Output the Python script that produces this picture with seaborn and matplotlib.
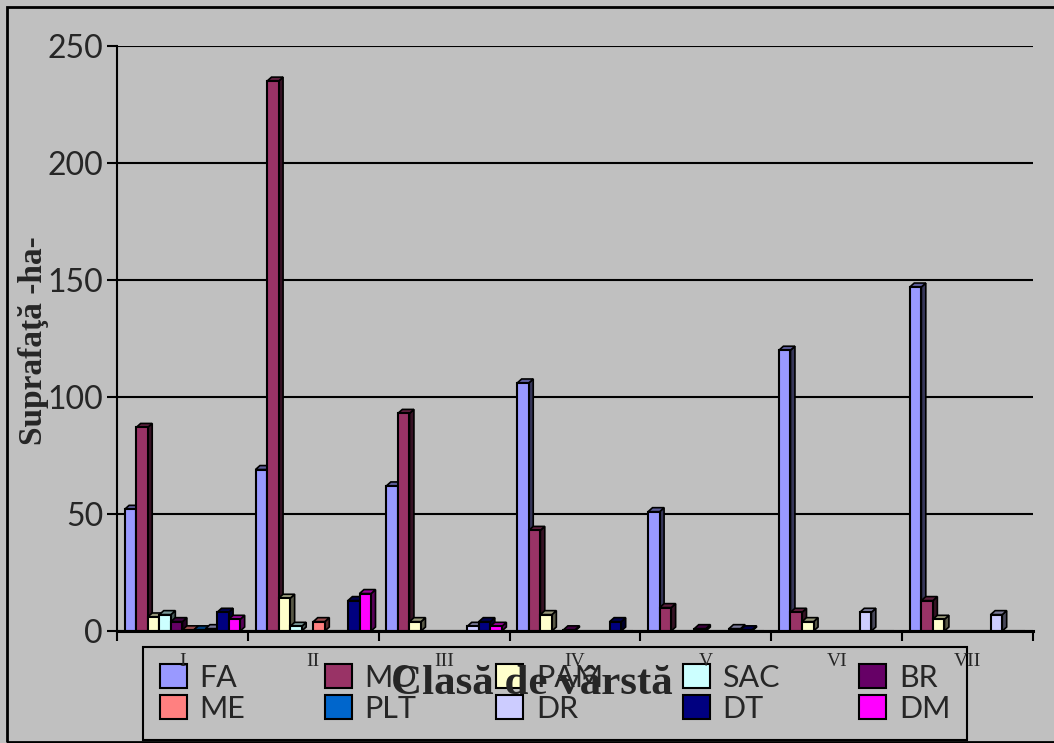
import numpy as np
import pandas as pd
import seaborn as sns
import matplotlib.pyplot as plt
from matplotlib.patches import Polygon, Rectangle
from matplotlib.colors import to_rgb

# Suprafata (ha) pe clase de varsta si specii
clase = ['I', 'II', 'III', 'IV', 'V', 'VI', 'VII']
specii = ['FA', 'MO', 'PAM', 'SAC', 'BR', 'ME', 'PLT', 'DR', 'DT', 'DM']

FA = [52, 69, 62, 106, 51, 120, 147]
MO = [87, 235, 93, 43, 10, 8, 13]
PAM = [6, 14, 4, 7, 0, 4, 5]
SAC = [7, 2, 0, 0, 0, 0, 0]
BR = [4, 0, 0, 0.5, 1, 0, 0]
ME = [0.5, 4, 0, 0, 0, 0, 0]
PLT = [0.5, 0, 0, 0, 0, 0, 0]
DR = [1, 0, 2, 0, 1, 8, 7]
DT = [8, 13, 4, 4, 0.5, 0, 0]
DM = [5, 16, 2, 0, 0, 0, 0]

culori = ['#9999FF', '#993366', '#FFFFCC', '#CCFFFF', '#660066',
          '#FF8080', '#0066CC', '#CCCCFF', '#000080', '#FF00FF']

valori = dict(zip(specii, [FA, MO, PAM, SAC, BR, ME, PLT, DR, DT, DM]))
df = pd.DataFrame([(c, s, valori[s][i]) for s in specii for i, c in enumerate(clase)],
                  columns=['clasa', 'specie', 'suprafata'])

sns.set_theme(style='white')
plt.rcParams['font.family'] = ['Lato', 'DejaVu Sans']
gri = '#C0C0C0'

fig, ax = plt.subplots(figsize=(10.54, 7.43), dpi=100)
fig.patch.set_facecolor(gri)
ax.set_facecolor(gri)
fig.subplots_adjust(left=117 / 1054, right=1033 / 1054, top=1 - 46 / 743, bottom=1 - 631 / 743)

sns.barplot(data=df, x='clasa', y='suprafata', hue='specie', order=clase, hue_order=specii,
            palette=culori, width=0.883, saturation=1, edgecolor='black', linewidth=1.5,
            errorbar=None, ax=ax)

# fake 3D: side and top faces for each bar
dx, dy = 0.034, 1.7
for bar in list(ax.patches):
    h = bar.get_height()
    if h <= 0:
        continue
    x, w = bar.get_x(), bar.get_width()
    c = np.array(to_rgb(bar.get_facecolor()))
    side = Polygon([(x + w, 0), (x + w + dx, dy), (x + w + dx, h + dy), (x + w, h)],
                   closed=True, facecolor=c * 0.35, edgecolor='black', lw=1.2, zorder=0.9)
    top = Polygon([(x, h), (x + dx, h + dy), (x + w + dx, h + dy), (x + w, h)],
                  closed=True, facecolor=c * 0.6, edgecolor='black', lw=1.2, zorder=0.9)
    ax.add_patch(side)
    ax.add_patch(top)

ax.set_xlim(-0.5, 6.5)
ax.set_ylim(0, 250)
ax.set_yticks(range(0, 251, 50))
ax.set_axisbelow(True)
ax.yaxis.grid(True, color='black', lw=1.5)
ax.xaxis.grid(False)

for s in ['top', 'right']:
    ax.spines[s].set_visible(False)
ax.spines['left'].set_color('black')
ax.spines['left'].set_linewidth(1.5)
ax.spines['bottom'].set_color('black')
ax.spines['bottom'].set_linewidth(2.2)

ax.tick_params(axis='y', labelsize=23, length=7, width=1.5, color='black', pad=3, left=True)
ax.tick_params(axis='x', which='major', length=0, labelsize=14, pad=16)
ax.set_xticks(np.arange(-0.5, 7, 1), minor=True)
ax.tick_params(axis='x', which='minor', length=7.5, width=1.5, color='black', bottom=True)
for lbl in ax.get_xticklabels():
    lbl.set_fontfamily('Liberation Serif')

ax.set_xlabel('Clasă de vârstă', fontsize=31, fontweight='bold', fontfamily='Liberation Serif')
ax.xaxis.set_label_coords(0.453, -0.09)
ax.xaxis.label.set_va('center')
ax.set_ylabel('Suprafaţă -ha-', fontsize=24, fontweight='bold', fontfamily='Liberation Serif')
ax.yaxis.set_label_coords(-0.0917, 0.497)
ax.yaxis.label.set_va('center')

# legend filled row by row (matplotlib fills columns first)
old = ax.get_legend()
handles = list(old.legend_handles)
labels = [t.get_text() for t in old.get_texts()]
old.remove()
ordine = [0, 5, 1, 6, 2, 7, 3, 8, 4, 9]
leg = ax.legend([handles[i] for i in ordine], [labels[i] for i in ordine],
                loc='upper left', bbox_to_anchor=(143 / 1054, 1 - 647 / 743),
                bbox_transform=fig.transFigure, ncol=5, frameon=True,
                fontsize=22, handlelength=0.88, handleheight=0.85, handletextpad=0.42,
                columnspacing=2.6, labelspacing=0.1, borderpad=0.55, borderaxespad=0,
                fancybox=False, framealpha=1, facecolor=gri, edgecolor='black')
leg.get_frame().set_linewidth(1.5)
leg.set_zorder(0.4)

fig.patches.append(Rectangle((7 / 1054, 1 - 742 / 743), 1.02, (742 - 7) / 743,
                             transform=fig.transFigure, fill=False, edgecolor='black', lw=2))

fig.savefig('out.png', dpi=100, facecolor=gri)
